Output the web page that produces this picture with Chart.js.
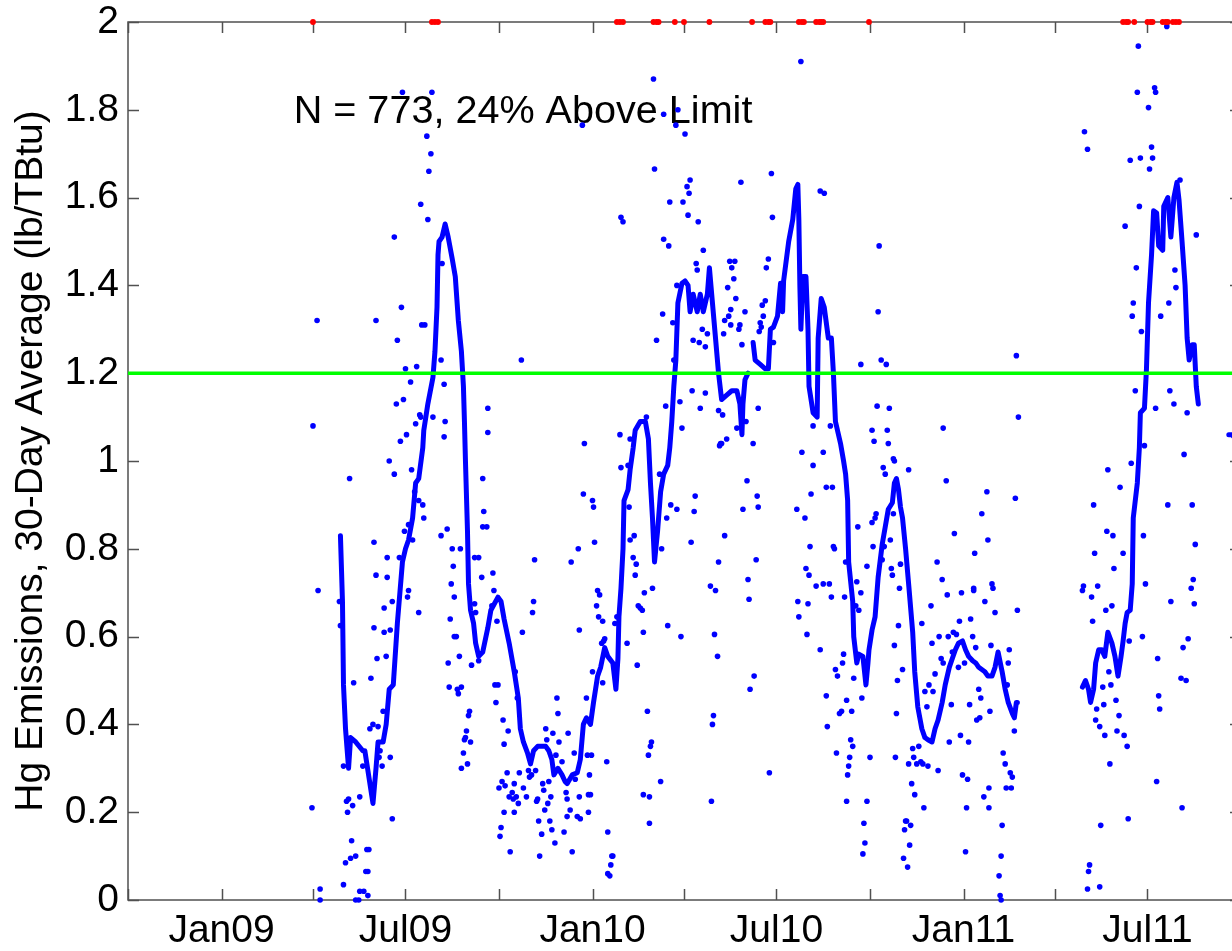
<!DOCTYPE html>
<html>
<head>
<meta charset="utf-8">
<style>
  html, body { margin: 0; padding: 0; background: #ffffff; overflow: hidden; }
  #wrap { width: 1260px; height: 951px; }
</style>
<script src="https://cdn.jsdelivr.net/npm/chart.js@4.4.1/dist/chart.umd.min.js"></script>
</head>
<body>
<div id="wrap"><canvas id="c" width="1260" height="951"></canvas></div>
<script>
// x values are days since 2009-01-01
const xMinDay = -92;   // 2008-10-01
const xMaxDay = 1003;  // 2011-10-01
const quarterTickDays = [-92, 0, 90, 181, 273, 365, 455, 546, 638, 730, 820, 911, 1003];
const quarterTickLabels = ['', 'Jan09', '', 'Jul09', '', 'Jan10', '', 'Jul10', '', 'Jan11', '', 'Jul11', ''];
const yTickValues = [0, 0.2, 0.4, 0.6, 0.8, 1, 1.2, 1.4, 1.6, 1.8, 2];
const yTitle = 'Hg Emissions, 30-Day Average (lb/TBtu)';
const annotationText = 'N = 773, 24% Above Limit';
const annotationDay = 71;
const annotationValue = 1.77;
const emissionLimit = 1.2;
const clipValue = 2;

// 30-day rolling average, four continuous segments [day, value]
const avgSegment1 = [[117,0.83],[119,0.68],[120,0.49],[122,0.39],[123,0.36],[125,0.30],[127,0.37],[132,0.36],[139,0.34],[141,0.34],[149,0.22],[152,0.30],[154,0.36],[159,0.36],[162,0.40],[165,0.48],[169,0.49],[173,0.63],[178,0.77],[181,0.80],[184,0.82],[188,0.87],[191,0.95],[194,0.96],[198,1.03],[199,1.07],[203,1.13],[208,1.19],[210,1.25],[212,1.35],[213,1.47],[214,1.50],[217,1.51],[220,1.54],[223,1.51],[227,1.46],[230,1.42],[233,1.32],[236,1.25],[238,1.17],[239,1.09],[240,1.00],[242,0.84],[243,0.72],[245,0.66],[248,0.63],[250,0.585],[253,0.555],[257,0.565],[262,0.62],[265,0.66],[272,0.69],[275,0.68],[278,0.64],[283,0.585],[288,0.52],[292,0.46],[294,0.39],[297,0.36],[301,0.335],[304,0.31],[307,0.34],[311,0.35],[316,0.35],[319,0.35],[322,0.34],[325,0.32],[327,0.285],[331,0.30],[335,0.285],[338,0.27],[340,0.265],[345,0.285],[350,0.29],[353,0.32],[356,0.40],[359,0.415],[363,0.40],[366,0.45],[370,0.51],[373,0.53],[377,0.575],[380,0.555],[385,0.54],[388,0.48],[390,0.55],[391,0.645],[393,0.71],[395,0.80],[396,0.91],[400,0.935],[402,0.98],[405,1.03],[407,1.07],[412,1.09],[417,1.09],[420,1.05],[422,0.95],[424,0.87],[426,0.77],[429,0.84],[432,0.93],[435,0.97],[439,0.99],[441,1.03],[443,1.09],[445,1.17],[447,1.23],[449,1.36],[453,1.405],[456,1.41],[459,1.40],[461,1.34],[464,1.38],[468,1.34],[471,1.38],[474,1.34],[478,1.38],[480,1.44],[483,1.36],[486,1.28],[489,1.20],[492,1.14],[497,1.15],[502,1.16],[507,1.16],[510,1.13],[512,1.06],[513,1.13],[515,1.185],[518,1.20]];
const avgSegment2 = [[523,1.27],[525,1.23],[530,1.22],[535,1.21],[538,1.21],[540,1.30],[543,1.305],[547,1.33],[550,1.405],[552,1.34],[553,1.41],[558,1.50],[562,1.55],[565,1.62],[567,1.63],[568,1.55],[569,1.40],[570,1.30],[572,1.42],[575,1.42],[577,1.30],[578,1.17],[582,1.11],[586,1.10],[587,1.28],[590,1.37],[593,1.35],[597,1.28],[600,1.28],[602,1.20],[604,1.09],[609,1.04],[612,1.00],[614,0.97],[616,0.91],[617,0.77],[621,0.68],[622,0.60],[625,0.54],[627,0.56],[631,0.555],[634,0.49],[636,0.54],[637,0.57],[640,0.615],[643,0.645],[646,0.735],[650,0.81],[653,0.85],[656,0.89],[660,0.905],[662,0.95],[664,0.96],[666,0.935],[668,0.895],[670,0.87],[673,0.80],[676,0.72],[680,0.61],[682,0.52],[685,0.44],[689,0.39],[692,0.37],[695,0.365],[699,0.36],[702,0.39],[705,0.41],[709,0.45],[712,0.49],[716,0.53],[719,0.55],[722,0.57],[725,0.585],[729,0.59],[732,0.57],[735,0.555],[739,0.545],[742,0.54],[745,0.53],[748,0.525],[751,0.52],[754,0.51],[758,0.51],[761,0.53],[764,0.565],[768,0.52],[771,0.48],[774,0.45],[778,0.425],[780,0.415],[782,0.45],[783,0.45]];
const avgSegment3 = [[847,0.485],[850,0.50],[853,0.48],[855,0.45],[858,0.48],[860,0.54],[863,0.57],[866,0.57],[869,0.555],[872,0.61],[876,0.585],[879,0.555],[882,0.51],[885,0.555],[887,0.59],[889,0.63],[891,0.655],[894,0.66],[896,0.72],[897,0.87],[901,0.95],[903,1.03],[904,1.11],[908,1.12],[910,1.21],[912,1.36],[915,1.47],[917,1.57],[920,1.565],[922,1.49],[926,1.48],[927,1.58],[931,1.60],[934,1.51],[937,1.60],[940,1.635],[942,1.595],[945,1.50],[948,1.40],[950,1.28],[952,1.23],[955,1.265],[957,1.265],[959,1.17],[961,1.13]];
const avgSegment4 = [[991,1.06],[994,1.06],[998,1.05]];

// daily values [day, value]
const daily2009 = [[178,1.84],[207,1.84],[202,1.74],[206,1.70],[204,1.66],[196,1.585],[203,1.55],[170,1.51],[217,1.45],[94,1.32],[152,1.32],[177,1.35],[173,1.275],[197,1.31],[200,1.31],[216,1.23],[181,1.21],[192,1.215],[186,1.18],[219,1.175],[179,1.14],[172,1.13],[195,1.105],[196,1.10],[208,1.10],[220,1.09],[191,1.085],[90,1.08],[182,1.06],[176,1.045],[219,1.055],[262,1.12],[262,1.065],
[165,1.0],[170,0.97],[126,0.96],[187,0.98],[190,0.93],[194,0.91],[198,0.90],[199,0.87],[184,0.855],[180,0.84],[188,0.82],[150,0.815],[163,0.78],[175,0.78],[152,0.74],[163,0.735],[184,0.705],[183,0.69],[95,0.705],[116,0.68],[117,0.625],[168,0.68],[194,0.655],[160,0.665],[150,0.62],[160,0.61],[166,0.615],[162,0.555],[153,0.55],[147,0.505],[130,0.495],[149,0.40],[146,0.39],[154,0.395],[159,0.43],[156,0.34],[155,0.325],[158,0.305],[166,0.325],[139,0.305],[120,0.305],[125,0.23],[123,0.225],[129,0.215],[136,0.235],[124,0.20],[89,0.21],[168,0.185],[128,0.135],[132,0.10],[127,0.095],[122,0.085],[143,0.115],[145,0.115],[142,0.065],[144,0.065],[120,0.035],[97,0.025],[97,0],[132,0],[135,0],[136,0.02],[140,0.02],[144,0.01],
[222,0.845],[216,0.83],[227,0.80],[235,0.80],[228,0.76],[226,0.72],[229,0.69],[225,0.64],[229,0.60],[231,0.60],[234,0.555],[223,0.54],[224,0.485],[232,0.48],[233,0.47],[236,0.485],[244,0.43],[243,0.42],[241,0.385],[240,0.37],[239,0.365],[245,0.36],[238,0.335],[242,0.31],[236,0.30],[246,0.535],[249,0.675],[250,0.655],[253,0.545],[249,0.78],[253,0.78],[256,0.735],[257,0.96],[258,0.885],[257,0.85],[261,0.85],
[355,1.765],[295,1.23],[357,1.04],
[267,0.745],[268,0.705],[266,0.67],[271,0.635],[269,0.49],[272,0.49],[270,0.45],[289,0.52],[291,0.46],[277,0.41],[282,0.385],[278,0.355],[281,0.29],[276,0.27],[273,0.255],[279,0.26],[286,0.245],[283,0.235],[287,0.23],[288,0.265],[292,0.22],[290,0.235],[278,0.20],[288,0.20],[275,0.165],[274,0.145],[284,0.11],[293,0.29],[297,0.255],[300,0.235],[302,0.295],[303,0.28],[305,0.285],[309,0.295],[311,0.23],[310,0.225],[312,0.18],[315,0.15],[313,0.10],[316,0.265],[317,0.25],[318,0.205],[322,0.27],[324,0.235],[321,0.22],[323,0.18],[325,0.16],[328,0.13],[319,0.39],[320,0.365],[326,0.38],[330,0.46],[331,0.425],[332,0.36],[329,0.33],[335,0.315],[341,0.38],[339,0.245],[340,0.23],[340,0.19],[337,0.155],[343,0.205],[345,0.11],[347,0.335],[348,0.275],[350,0.19],[353,0.185],[352,0.235],[352,0.615],[351,0.80],[344,0.77],[308,0.775],[307,0.68],[306,0.655],[296,0.61],[356,0.925],[360,0.33],[362,0.285],[361,0.24],[363,0.24],[361,0.20],[359,0.46],[364,0.33]];

const daily2010 = [[365,0.91],[366,0.895],[367,0.815],[365,0.52],[370,0.705],[372,0.695],[369,0.67],[371,0.645],[375,0.635],[376,0.59],[374,0.585],[377,0.595],[375,0.495],[379,0.315],[380,0.155],[384,0.10],[385,0.10],[383,0.08],[380,0.06],[382,0.055],[387,0.63],[389,0.645],[399,0.585],[393,0.985],[400,0.99],[401,0.895],[402,0.82],[406,0.83],[405,0.78],[408,0.765],[407,0.74],[410,0.67],[412,0.665],[414,0.66],[415,0.61],[409,0.535],[416,0.70],[419,0.43],[420,0.33],[423,0.36],[422,0.35],[415,0.24],[421,0.235],[421,0.175],[424,0.71],[433,0.80],[431,0.97],[438,0.87],[439,0.625],[442,0.90],[448,0.89],[432,0.27],[452,0.60],[462,0.815],[465,0.885],[466,0.92],[481,0.715],[486,0.705],[489,0.77],[485,0.605],[488,0.555],[484,0.42],[483,0.40],[482,0.225],
[425,1.87],[435,1.79],[449,1.80],[447,1.765],[456,1.745],[426,1.665],[461,1.64],[458,1.625],[460,1.61],[441,1.59],[454,1.59],[459,1.56],[469,1.545],[393,1.555],[395,1.545],[435,1.505],[440,1.49],[474,1.48],[467,1.45],[468,1.435],[448,1.40],[434,1.335],[444,1.315],[428,1.275],[464,1.275],[470,1.27],[473,1.30],[478,1.29],[476,1.26],[445,1.23],[463,1.16],[476,1.155],[451,1.135],[471,1.12],[437,1.125],[489,1.115],[392,1.06],[453,1.075],[402,1.05],[418,1.10],[490,1.035],
[570,1.91],[541,1.655],[511,1.635],[542,1.555],[589,1.615],[593,1.61],[647,1.49],[500,1.455],[505,1.455],[502,1.44],[504,1.415],[538,1.46],[536,1.44],[498,1.395],[506,1.37],[501,1.345],[499,1.33],[495,1.32],[501,1.31],[510,1.31],[509,1.30],[494,1.29],[512,1.265],[515,1.34],[535,1.365],[532,1.355],[533,1.33],[530,1.315],[531,1.305],[529,1.295],[543,1.27],[646,1.34],[629,1.22],[649,1.23],[654,1.22],[493,1.105],[528,1.12],[516,1.09],[507,1.075],[497,1.05],[491,1.04],[492,1.04],[523,1.04],[582,1.08],[599,1.08],[571,1.02],[592,1.02],[645,1.125],[657,1.12],[640,1.07],[642,1.045],[655,1.07],[656,1.04],[710,1.075],[661,1.005],
[582,0.99],[580,0.925],[595,0.94],[601,0.94],[566,0.89],[574,0.87],[517,0.955],[513,0.89],[527,0.92],[528,0.895],[495,0.83],[526,0.775],[518,0.73],[519,0.685],[524,0.51],[520,0.48],[539,0.29],[579,0.805],[575,0.755],[578,0.74],[567,0.68],[577,0.675],[568,0.645],[576,0.605],[585,0.715],[592,0.72],[598,0.72],[600,0.69],[589,0.57],[602,0.805],[603,0.80],[595,0.465],[596,0.395],[604,0.525],[606,0.51],[612,0.56],[611,0.54],[613,0.69],[614,0.77],[615,0.455],[608,0.425],[610,0.43],[605,0.335],[620,0.43],[622,0.505],[619,0.365],[621,0.35],[618,0.325],[617,0.305],[616,0.285],[615,0.225],[626,0.85],[625,0.725],[629,0.70],[624,0.67],[627,0.66],[635,0.76],[630,0.46],[638,0.325],[635,0.225],[632,0.175],[633,0.13],[631,0.105],[640,0.86],[643,0.87],[644,0.88],[641,0.805],[650,0.775],[652,0.805],[651,0.985],[653,0.97],[662,1.0],[676,0.98],[658,0.82],[661,0.88],[659,0.755],[660,0.74],[668,0.765],[667,0.71],[666,0.625],[662,0.58],[670,0.525],[665,0.50],[664,0.425],[663,0.325],[676,0.31],[680,0.345],[681,0.325],[686,0.35],[684,0.31],[688,0.315],[690,0.31],[695,0.305],[705,0.295],[679,0.265],[682,0.24],[691,0.21],[674,0.18],[673,0.18],[678,0.17],[672,0.16],[677,0.125],[671,0.095],[675,0.075],[689,0.63],[698,0.67],[699,0.585],[702,0.515],[692,0.475],[696,0.49],[700,0.475],[694,0.44],[706,0.60],[704,0.77],[709,0.73],[714,0.695],[713,0.955],[715,0.60],[708,0.55],[710,0.54],[716,0.36],
[721,0.835],[728,0.70],[726,0.635],[720,0.61],[723,0.605],[719,0.565],[725,0.53],[718,0.445],[727,0.375],[729,0.285]];

const daily2011 = [[753,0.93],[781,0.915],[748,0.88],[754,0.82],[741,0.79],[740,0.705],[740,0.71],[758,0.72],[759,0.71],[751,0.68],[761,0.655],[783,0.66],[737,0.64],[739,0.60],[757,0.58],[742,0.575],[775,0.57],[731,0.54],[774,0.54],[745,0.48],[747,0.46],[736,0.445],[756,0.43],[743,0.41],[746,0.415],[773,0.49],[780,0.385],[735,0.36],[769,0.335],[771,0.31],[734,0.275],[776,0.29],[778,0.28],[755,0.255],[772,0.255],[777,0.255],[750,0.235],[755,0.21],[733,0.21],[768,0.17],[732,0.11],[767,0.10],[765,0.055],[766,0.01],[767,0],
[930,1.99],[902,1.945],[918,1.85],[919,1.84],[901,1.84],[912,1.805],[849,1.75],[852,1.71],[915,1.715],[904,1.69],[916,1.69],[894,1.685],[913,1.665],[943,1.64],[903,1.58],[889,1.535],[959,1.515],[900,1.44],[938,1.435],[939,1.395],[897,1.36],[932,1.36],[896,1.33],[924,1.33],[905,1.295],[782,1.24],[899,1.16],[933,1.16],[937,1.13],[919,1.12],[950,1.11],[784,1.10],[908,1.035],[947,1.015],
[895,0.995],[872,0.98],[884,0.94],[858,0.90],[931,0.90],[955,0.90],[871,0.84],[877,0.83],[907,0.83],[958,0.81],[859,0.79],[887,0.79],[878,0.755],[909,0.72],[956,0.73],[954,0.71],[957,0.675],[934,0.68],[847,0.705],[848,0.715],[862,0.715],[856,0.69],[876,0.67],[870,0.66],[857,0.635],[906,0.60],[893,0.59],[951,0.595],[946,0.575],[921,0.55],[944,0.505],[949,0.50],[873,0.52],[875,0.49],[867,0.485],[922,0.465],[923,0.435],[868,0.445],[861,0.435],[880,0.455],[883,0.42],[860,0.41],[864,0.395],[869,0.375],[881,0.385],[888,0.375],[891,0.35],[874,0.31],[920,0.27],[945,0.21],[892,0.185],[865,0.17],[854,0.08],[853,0.065],[852,0.025],[864,0.03]];

// days whose daily value exceeded the plotted range (shown at the top edge)
const clippedDays = [90,207,210,213,389,392,395,425,428,430,446,455,480,522,535,538,540,568,571,573,585,588,590,592,637,887,890,892,898,911,914,916,926,929,931,936,939,942];

const FONT = '"Liberation Sans", Arial, Helvetica, sans-serif';
const toXY = arr => arr.map(([d, v]) => ({ x: d, y: v }));

const boxPlugin = {
  id: 'matlabBox',
  beforeDatasetsDraw(chart) {
    const { ctx, chartArea: a, scales: { x, y } } = chart;
    ctx.save();
    ctx.font = '39.6px ' + FONT;
    ctx.fillStyle = '#000';
    ctx.textAlign = 'left';
    ctx.textBaseline = 'alphabetic';
    ctx.fillText(annotationText, x.getPixelForValue(annotationDay), y.getPixelForValue(annotationValue));
    ctx.strokeStyle = '#505050';
    ctx.lineWidth = 1.5;
    ctx.strokeRect(a.left, a.top, a.right - a.left, a.bottom - a.top);
    ctx.beginPath();
    x.ticks.forEach(t => {
      const px = Math.round(x.getPixelForValue(t.value)) + 0.5;
      ctx.moveTo(px, a.bottom); ctx.lineTo(px, a.bottom - 11);
      ctx.moveTo(px, a.top); ctx.lineTo(px, a.top + 11);
    });
    y.ticks.forEach(t => {
      const py = Math.round(y.getPixelForValue(t.value)) + 0.5;
      ctx.moveTo(a.left, py); ctx.lineTo(a.left + 11, py);
      ctx.moveTo(a.right, py); ctx.lineTo(a.right - 11, py);
    });
    ctx.stroke();
    ctx.restore();
  }
};

const lineDs = (arr) => ({
  data: toXY(arr), showLine: true, borderColor: '#0000ff', borderWidth: 5,
  pointRadius: 0, pointHoverRadius: 0, tension: 0, borderJoinStyle: 'round', borderCapStyle: 'round', order: 2
});

new Chart(document.getElementById('c'), {
  type: 'scatter',
  data: {
    datasets: [
      { label: 'Limit', data: [{ x: xMinDay, y: emissionLimit }, { x: xMaxDay, y: emissionLimit }], showLine: true,
        borderColor: '#00ff00', borderWidth: 3.5, pointRadius: 0, order: 0 },
      { label: 'Above range', data: clippedDays.map(d => ({ x: d, y: clipValue })), pointRadius: 2.9,
        pointBackgroundColor: '#ff0000', pointBorderWidth: 0, clip: false, order: 1 },
      Object.assign(lineDs(avgSegment1), { label: '30-day avg' }),
      lineDs(avgSegment2),
      lineDs(avgSegment3),
      lineDs(avgSegment4),
      { label: 'Daily', data: toXY(daily2009.concat(daily2010, daily2011)), pointRadius: 2.8,
        pointBackgroundColor: '#0000ff', pointBorderWidth: 0, clip: false, order: 3 }
    ]
  },
  options: {
    responsive: false,
    animation: false,
    devicePixelRatio: 1,
    layout: { padding: { top: 22, right: 19, bottom: 0, left: 0 } },
    plugins: { legend: { display: false }, tooltip: { enabled: true } },
    scales: {
      x: {
        type: 'linear', min: xMinDay, max: xMaxDay,
        grid: { display: false, drawTicks: false }, border: { display: false },
        afterBuildTicks: s => { s.ticks = quarterTickDays.map(v => ({ value: v })); },
        ticks: { autoSkip: false, maxRotation: 0, minRotation: 0, padding: 8, color: '#000',
          font: { size: 39, family: FONT },
          callback: (v, i) => quarterTickLabels[i] },
        afterFit: s => { s.height = 51; s.paddingLeft = 0; s.paddingRight = 0; }
      },
      y: {
        min: 0, max: 2,
        grid: { display: false, drawTicks: false }, border: { display: false },
        afterBuildTicks: s => { s.ticks = yTickValues.map(v => ({ value: v })); },
        ticks: { padding: 9, color: '#000', font: { size: 39, family: FONT }, callback: v => String(v) },
        title: { display: true, text: yTitle, color: '#000', font: { size: 39, family: FONT }, padding: { top: 8, bottom: 0 } },
        afterFit: s => { s.width = 128; s.paddingTop = 0; s.paddingBottom = 0; }
      }
    }
  },
  plugins: [boxPlugin]
});
</script>
</body>
</html>
